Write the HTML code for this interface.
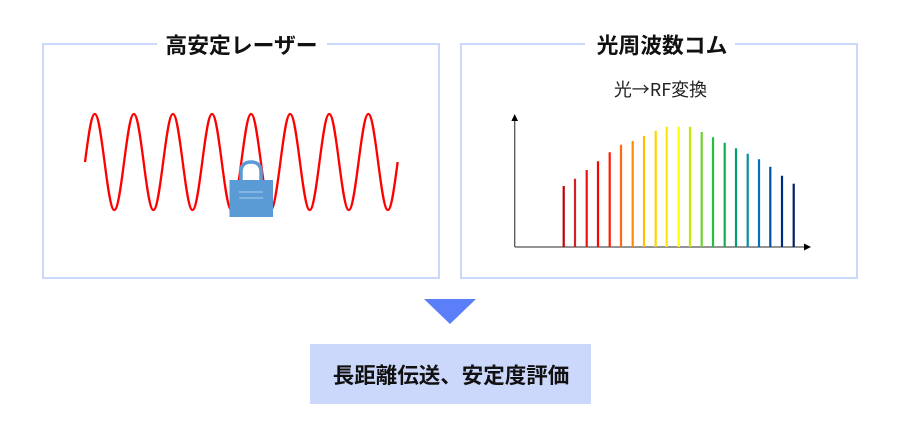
<!DOCTYPE html>
<html lang="ja">
<head>
<meta charset="utf-8">
<style>
html,body{margin:0;padding:0;background:#fff;}
body{width:900px;height:446px;overflow:hidden;}
svg{display:block;}
text{font-family:"Noto Sans CJK JP","Liberation Sans",sans-serif;}
</style>
</head>
<body>
<svg width="900" height="446" viewBox="0 0 900 446" xmlns="http://www.w3.org/2000/svg">
<rect width="900" height="446" fill="#fff"/>
<rect x="43" y="44" width="396" height="234" fill="none" stroke="#cbd7fb" stroke-width="2"/>
<rect x="461" y="44" width="396" height="234" fill="none" stroke="#cbd7fb" stroke-width="2"/>
<rect x="157" y="36" width="170" height="16" fill="#fff"/>
<rect x="585" y="36" width="150" height="16" fill="#fff"/>
<text x="241.500" y="53" font-size="21.800" font-weight="700" text-anchor="middle" fill="#111">高安定レーザー</text>
<text x="662" y="53" font-size="21.800" font-weight="700" text-anchor="middle" fill="#111">光周波数コム</text>
<text x="660.500" y="96" font-size="18" text-anchor="middle" fill="#222">光→RF変換</text>

<path fill="none" stroke="#ff0000" stroke-width="2.300" d="M85 162
c3.180 -24.600 6.230 -48 9.770 -48 c3.540 0 6.590 23.400 9.770 48 c3.180 24.600 6.230 48 9.770 48 c3.540 0 6.590 -23.400 9.770 -48
c3.180 -24.600 6.230 -48 9.770 -48 c3.540 0 6.590 23.400 9.770 48 c3.180 24.600 6.230 48 9.770 48 c3.540 0 6.590 -23.400 9.770 -48
c3.180 -24.600 6.230 -48 9.770 -48 c3.540 0 6.590 23.400 9.770 48 c3.180 24.600 6.230 48 9.770 48 c3.540 0 6.590 -23.400 9.770 -48
c3.180 -24.600 6.230 -48 9.770 -48 c3.540 0 6.590 23.400 9.770 48 c3.180 24.600 6.230 48 9.770 48 c3.540 0 6.590 -23.400 9.770 -48
c3.180 -24.600 6.230 -48 9.770 -48 c3.540 0 6.590 23.400 9.770 48 c3.180 24.600 6.230 48 9.770 48 c3.540 0 6.590 -23.400 9.770 -48
c3.180 -24.600 6.230 -48 9.770 -48 c3.540 0 6.590 23.400 9.770 48 c3.180 24.600 6.230 48 9.770 48 c3.540 0 6.590 -23.400 9.770 -48
c3.180 -24.600 6.230 -48 9.770 -48 c3.540 0 6.590 23.400 9.770 48 c3.180 24.600 6.230 48 9.770 48 c3.540 0 6.590 -23.400 9.770 -48
c3.180 -24.600 6.230 -48 9.770 -48 c3.540 0 6.590 23.400 9.770 48 c3.180 24.600 6.230 48 9.770 48 c3.540 0 6.590 -23.400 9.770 -48"/>

<path d="M241 181 V172 C241 165 245 162 251 162 C257 162 261 165 261 172 V181" fill="#fff" stroke="#5b9bd5" stroke-width="3.500"/>
<rect x="229.500" y="180" width="43.500" height="37" fill="#5b9bd5"/>
<path d="M239 192 H263 M239 198 H263" stroke="#9dc3e6" stroke-width="1.200" fill="none"/>

<path d="M514.700 247 V119 M514.700 247 H806" stroke="#555" stroke-width="1.300" fill="none"/>
<path d="M514.700 114 L518 121 H511.400 Z" fill="#000"/>
<path d="M811 247 L804 243.500 V250.500 Z" fill="#000"/>

<g stroke-width="2.200" fill="none">
<path d="M563.700 247 V186" stroke="#c00000"/>
<path d="M575 247 V178.700" stroke="#d0202a"/>
<path d="M586.700 247 V170" stroke="#f01010"/>
<path d="M598 247 V161.300" stroke="#ff0000"/>
<path d="M609.700 247 V152.300" stroke="#ff1a00"/>
<path d="M621 247 V144.700" stroke="#ff6a10"/>
<path d="M632.700 247 V141" stroke="#ff8c00"/>
<path d="M644 247 V136" stroke="#ffc000"/>
<path d="M655.700 247 V130.700" stroke="#ffd500"/>
<path d="M666.700 247 V126.700" stroke="#ffe600"/>
<path d="M678.700 247 V126.700" stroke="#ffff00"/>
<path d="M690 247 V126.700" stroke="#c4e800"/>
<path d="M701.700 247 V132" stroke="#70d030"/>
<path d="M713 247 V137.300" stroke="#20c040"/>
<path d="M724.700 247 V142.700" stroke="#10b050"/>
<path d="M736 247 V148.300" stroke="#00a070"/>
<path d="M747.700 247 V153.700" stroke="#0090a0"/>
<path d="M759 247 V159.300" stroke="#0070c0"/>
<path d="M770.300 247 V166.700" stroke="#0050a8"/>
<path d="M782 247 V175.700" stroke="#002a80"/>
<path d="M793.700 247 V183.700" stroke="#002060"/>
</g>

<path d="M424 299 H476 L450 324 Z" fill="#5b7ff9"/>
<rect x="310" y="344" width="281" height="60" fill="#cbd7fb"/>
<text x="451" y="383" font-size="21.500" font-weight="700" text-anchor="middle" fill="#111">長距離伝送、安定度評価</text>
</svg>
</body>
</html>
